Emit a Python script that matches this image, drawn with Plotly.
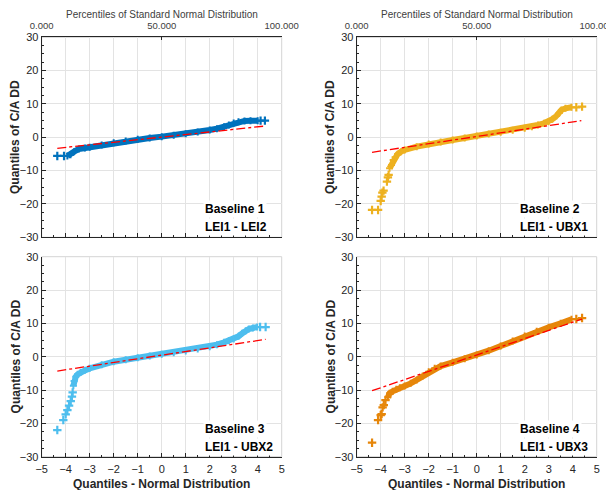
import plotly.graph_objects as go

# ---------------- data ----------------
# Baseline 1  (LEI1 - LEI2)
b1_body_x = [-3.93, -3.8, -3.65, -3.45, -3.2, -3.0, -2.5, -2.0, -1.5, -1.0, -0.5, 0.0, 0.5, 1.0, 1.5, 2.0, 2.3, 2.6, 2.8, 3.0, 3.2, 3.45, 3.7, 4.0]
b1_body_y = [-5.6, -5.2, -4.3, -3.5, -3.2, -3.0, -2.3, -1.6, -1.1, -0.6, -0.2, 0.2, 0.6, 1.1, 1.6, 2.2, 2.6, 3.2, 3.7, 4.3, 4.7, 4.9, 5.0, 5.0]
b1_tail_x = [-4.35, -4.07, 4.12, 4.3]
b1_tail_y = [-5.6, -5.6, 5.0, 5.0]
b1_ref_x = [-4.35, 4.33]
b1_ref_y = [-3.3, 3.4]

# Baseline 2  (LEI1 - UBX1)
b2_body_x = [-3.63, -3.55, -3.48, -3.4, -3.3, -3.15, -3.0, -2.5, -2.0, -1.5, -1.0, -0.5, 0.0, 0.5, 1.0, 1.5, 2.0, 2.3, 2.55, 2.8, 3.0, 3.15, 3.32, 3.45, 3.53, 3.7, 3.95]
b2_body_y = [-9.3, -8.3, -6.8, -6.0, -5.1, -4.3, -3.8, -2.8, -2.0, -1.4, -0.8, -0.2, 0.4, 1.0, 1.5, 2.1, 2.7, 3.2, 3.7, 4.2, 4.7, 5.4, 6.4, 7.4, 8.2, 8.7, 9.0]
b2_tail_x = [-4.36, -4.11, -4.0, -3.96, -3.93, -3.88, -3.74, -3.70, -3.67, 4.15, 4.39]
b2_tail_y = [-21.8, -21.8, -19.1, -17.8, -16.6, -16.0, -13.3, -12.0, -11.3, 9.0, 9.2]
b2_ref_x = [-4.36, 4.36]
b2_ref_y = [-4.5, 5.0]

# Baseline 3  (LEI1 - UBX2)
b3_body_x = [-3.68, -3.65, -3.58, -3.5, -3.38, -3.2, -3.0, -2.5, -2.0, -1.5, -1.0, -0.5, 0.0, 0.5, 1.0, 1.5, 2.0, 2.3, 2.6, 2.8, 3.0, 3.2, 3.35, 3.5, 3.63, 3.8, 3.98]
b3_body_y = [-8.7, -7.3, -6.0, -5.3, -4.7, -4.1, -3.5, -2.4, -1.5, -0.9, -0.3, 0.2, 0.7, 1.2, 1.7, 2.3, 3.0, 3.6, 4.3, 4.8, 5.3, 6.1, 7.0, 7.8, 8.3, 8.6, 8.9]
b3_tail_x = [-4.35, -4.1, -4.0, -3.93, -3.86, -3.79, -3.74, -3.71, 4.1, 4.33]
b3_tail_y = [-22.0, -19.0, -17.3, -16.0, -14.7, -13.3, -12.0, -10.7, 8.9, 8.9]
b3_ref_x = [-4.35, 4.33]
b3_ref_y = [-4.3, 5.2]

# Baseline 4  (LEI1 - UBX3)
b4_body_x = [-3.7, -3.63, -3.5, -3.35, -3.2, -3.0, -2.75, -2.5, -2.25, -2.0, -1.75, -1.5, -1.0, -0.5, 0.0, 0.5, 1.0, 1.5, 2.0, 2.5, 3.0, 3.5, 3.95]
b4_body_y = [-12.2, -11.0, -10.4, -9.8, -9.3, -8.8, -8.0, -7.0, -5.8, -4.5, -3.5, -2.8, -1.7, -0.6, 0.5, 1.8, 3.2, 4.7, 6.2, 7.6, 8.8, 10.0, 11.2]
b4_tail_x = [-4.36, -4.11, -4.0, -3.96, -3.92, -3.87, -3.8, 4.15, 4.39]
b4_tail_y = [-25.8, -19.0, -17.5, -17.2, -15.2, -14.5, -13.0, 11.3, 11.6]
b4_ref_x = [-4.36, 4.39]
b4_ref_y = [-10.2, 11.3]

panel_titles = [("Baseline 1", "LEI1 - LEI2"), ("Baseline 2", "LEI1 - UBX1"),
                ("Baseline 3", "LEI1 - UBX2"), ("Baseline 4", "LEI1 - UBX3")]
panel_colors = ["#0072BD", "#EDB120", "#4DBEEE", "#E6860A"]

pct_tickvals = [0, 50, 100]
pct_ticktext = ["0.000", "50.000", "100.000"]

x_title = "Quantiles - Normal Distribution"
y_title = "Quantiles of C/A DD"
top_title = "Percentiles of Standard Normal Distribution"

# ---------------- figure ----------------
OFF = 8                      # page body margin in the browser
W, H = 614 - OFF, 490 - OFF
FONT = "Liberation Sans, Arial, Helvetica, sans-serif"
AX = "#262626"
GRID = "#e3e3e3"

panels = [
    (b1_body_x, b1_body_y, b1_tail_x, b1_tail_y, b1_ref_x, b1_ref_y),
    (b2_body_x, b2_body_y, b2_tail_x, b2_tail_y, b2_ref_x, b2_ref_y),
    (b3_body_x, b3_body_y, b3_tail_x, b3_tail_y, b3_ref_x, b3_ref_y),
    (b4_body_x, b4_body_y, b4_tail_x, b4_tail_y, b4_ref_x, b4_ref_y),
]

# plot-area boxes in page pixels (left, right, top, bottom)
boxes = [(41.7, 281.7, 37.3, 237.3), (356.7, 596.7, 37.3, 237.3),
         (41.7, 281.7, 256.7, 456.7), (356.7, 596.7, 256.7, 456.7)]


def px(v):
    return (v - OFF) / W


def py(v):
    return 1 - (v - OFF) / H


fig = go.Figure()
layout = dict(width=W, height=H, margin=dict(l=0, r=0, t=0, b=0, pad=0, autoexpand=False),
              paper_bgcolor="white", plot_bgcolor="white", showlegend=False,
              font=dict(family=FONT, color=AX))
annotations = []
shapes = []

for i, (bx, by, tx, ty, rx, ry) in enumerate(panels):
    n = i + 1
    xa = "x" if n == 1 else f"x{n}"
    ya = "y" if n == 1 else f"y{n}"
    col = panel_colors[i]
    mk = dict(symbol="cross-thin", size=6, color=col, line=dict(color=col, width=2.2))
    mk_body = dict(symbol="cross-thin", size=5, color=col, line=dict(color=col, width=2))
    fig.add_trace(go.Scatter(x=bx, y=by, mode="lines+markers", line=dict(color=col, width=6),
                             marker=mk_body, xaxis=xa, yaxis=ya, hoverinfo="skip"))
    fig.add_trace(go.Scatter(x=tx, y=ty, mode="markers", marker=mk, xaxis=xa, yaxis=ya,
                             hoverinfo="skip"))
    fig.add_trace(go.Scatter(x=rx, y=ry, mode="lines", line=dict(color="#FF0000", width=1.3, dash="dashdot"),
                             xaxis=xa, yaxis=ya, hoverinfo="skip"))

    l, r, t, b = boxes[i]
    bottom_row = n >= 3
    layout["xaxis" if n == 1 else f"xaxis{n}"] = dict(
        domain=[px(l), px(r)], anchor=ya, range=[-5, 5], dtick=1, tick0=0, automargin=False,
        showgrid=True, gridcolor=GRID, gridwidth=1, zeroline=False,
        showline=True, linecolor=AX, linewidth=1, ticks="inside", ticklen=4, tickcolor=AX,
        minor=dict(dtick=0.5, ticks="inside", ticklen=2, tickcolor=AX, showgrid=False),
        showticklabels=bottom_row, ticklabelstandoff=2, tickfont=dict(size=11, color=AX, family=FONT),
    )
    layout["yaxis" if n == 1 else f"yaxis{n}"] = dict(
        domain=[py(b), py(t)], anchor=xa, range=[-30, 30], dtick=10, tick0=0, automargin=False,
        showgrid=True, gridcolor=GRID, gridwidth=1, zeroline=False,
        showline=True, linecolor=AX, linewidth=1, ticks="inside", ticklen=4, tickcolor=AX,
        minor=dict(dtick=2.5, ticks="inside", ticklen=2, tickcolor=AX, showgrid=False),
        tickfont=dict(size=11, color=AX, family=FONT),
    )
    # light frame on top/right
    shapes.append(dict(type="rect", xref=f"{xa} domain", yref=f"{ya} domain", x0=0, x1=1, y0=0, y1=1,
                       line=dict(color="#d4d4d4", width=1), layer="below"))

    # panel label
    cx = (l + r) / 2
    annotations.append(dict(text=f"<b>{panel_titles[i][0]}</b>", xref=xa, yref=ya, x=1.72, y=-21.6,
                            xanchor="left", yanchor="middle", showarrow=False,
                            font=dict(size=12, color="#000000", family=FONT), bgcolor="white", borderpad=1))
    annotations.append(dict(text=f"<b>{panel_titles[i][1]}</b>", xref=xa, yref=ya, x=1.72, y=-27.0,
                            xanchor="left", yanchor="middle", showarrow=False,
                            font=dict(size=12, color="#000000", family=FONT), bgcolor="white", borderpad=1))
    # y title
    annotations.append(dict(text=f"<b>{y_title}</b>", xref="paper", yref="paper",
                            x=px(l - 26), y=py((t + b) / 2), textangle=-90,
                            xanchor="center", yanchor="middle", showarrow=False,
                            font=dict(size=12, color=AX, family=FONT)))
    if bottom_row:
        annotations.append(dict(text=f"<b>{x_title}</b>", xref="paper", yref="paper",
                                x=px(cx), y=py(484), xanchor="center", yanchor="middle",
                                showarrow=False, font=dict(size=12, color=AX, family=FONT)))
    else:
        # top percentile axis
        k = n + 4
        layout[f"xaxis{k}"] = dict(
            overlaying=xa, anchor=ya, side="top", range=[0, 100], automargin=False,
            tickvals=pct_tickvals, ticktext=pct_ticktext, showgrid=False, zeroline=False,
            showline=True, linecolor=AX, linewidth=1, ticks="inside", ticklen=3, tickcolor=AX,
            ticklabelstandoff=4, tickfont=dict(size=9.5, color="#404040", family=FONT),
        )
        fig.add_trace(go.Scatter(x=[None], y=[None], xaxis=f"x{k}", yaxis=ya, mode="markers",
                                 hoverinfo="skip", showlegend=False))
        annotations.append(dict(text=top_title, xref="paper", yref="paper",
                                x=px(cx), y=1.0, xanchor="center", yanchor="top", borderpad=0,
                                showarrow=False, font=dict(size=10, color="#404040", family=FONT)))

layout["annotations"] = annotations
layout["shapes"] = shapes
fig.update_layout(**layout)
fig.write_html("out.html")
